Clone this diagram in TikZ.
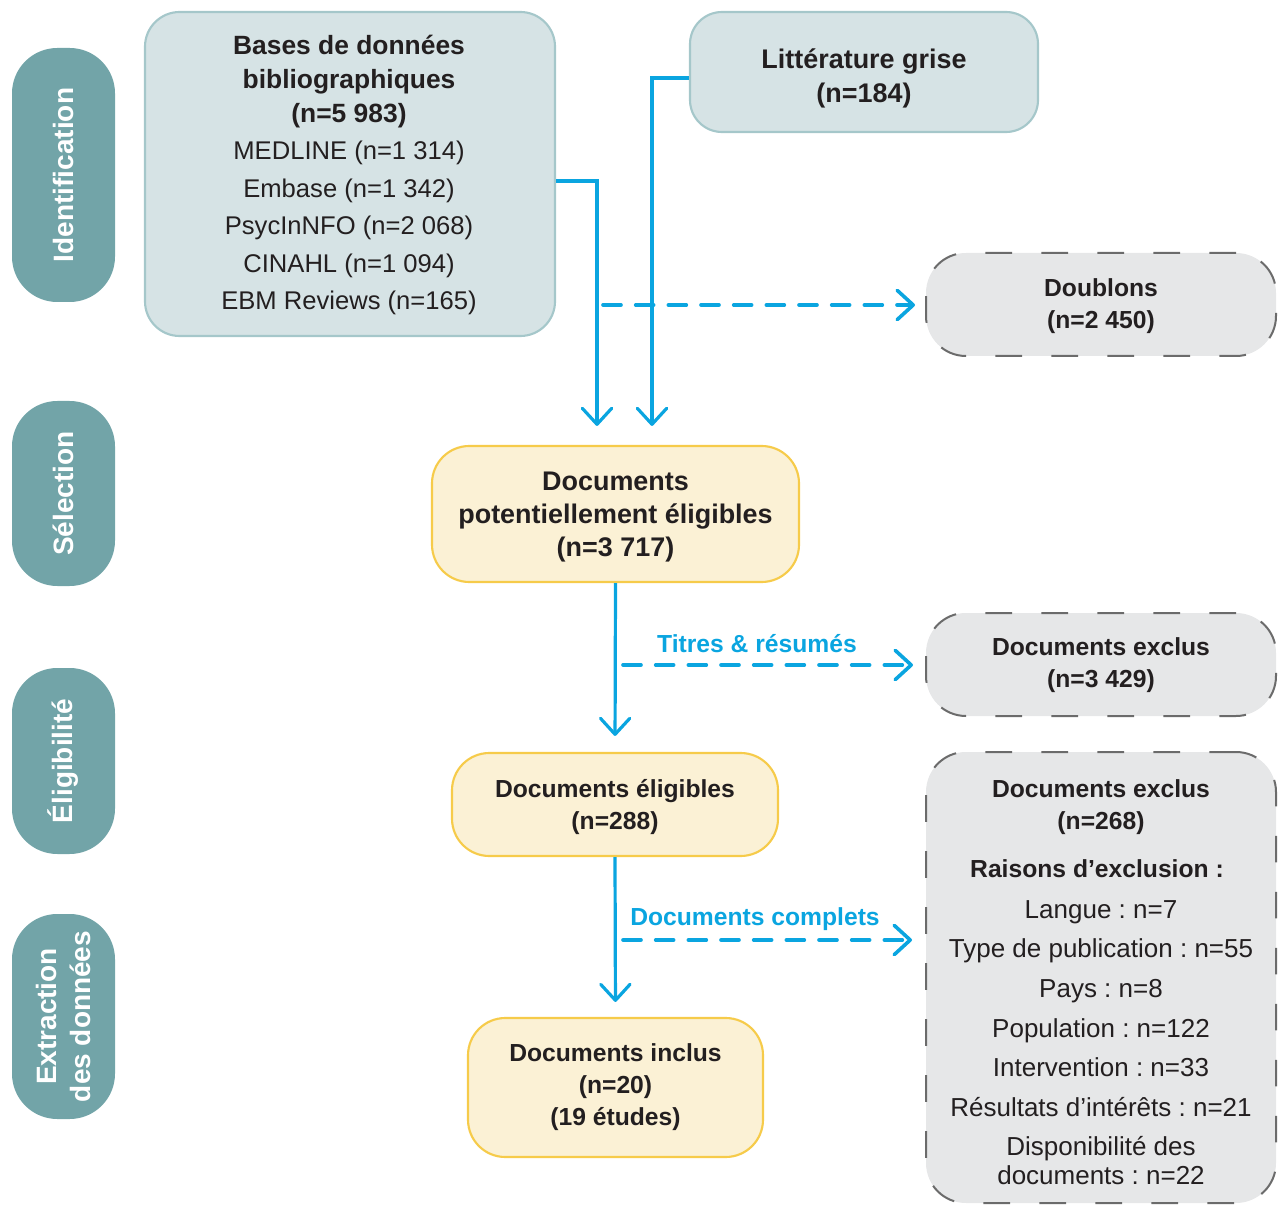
\documentclass[tikz,border=0pt]{standalone}
\usepackage{fontspec}
\setmainfont{Liberation Sans}
\usetikzlibrary{arrows.meta}
\frenchspacing
\definecolor{sidec}{HTML}{72A4A8}
\definecolor{bgfill}{HTML}{D6E3E5}
\definecolor{bgline}{HTML}{A5C7CA}
\definecolor{yfill}{HTML}{FBF1D5}
\definecolor{yline}{HTML}{F6CB4A}
\definecolor{gfill}{HTML}{E6E7E8}
\definecolor{gline}{HTML}{6B6B6B}
\definecolor{arrc}{HTML}{0AA5E0}
\definecolor{txt}{HTML}{231F20}
\def\pxu{0.75pt}
\tikzset{
  sidebox/.style={rounded corners=34pt, fill=sidec, rotate=90, text=white, inner sep=0pt,
    font=\fontsize{21}{25}\selectfont\bfseries, align=center},
  bluebox/.style={rounded corners=26pt, fill=bgfill, draw=bgline, line width=1.6pt, inner sep=0pt},
  yellowbox/.style={rounded corners=28pt, fill=yfill, draw=yline, line width=1.6pt, inner sep=0pt},
  graybox/.style={rounded corners=30pt, fill=gfill, draw=gline, line width=1.5pt, dash pattern=on 20pt off 22pt, inner sep=0pt},
  boldtxt/.style={text=txt, align=center, inner sep=0pt, font=\fontsize{18.5}{24}\selectfont\bfseries},
  regtxt/.style={text=txt, align=center, inner sep=0pt, font=\fontsize{18.5}{28}\selectfont},
  arr/.style={draw=arrc, line width=2.4pt, -{Straight Barb[length=12pt,width=22pt,round]}},
  darr/.style={arr, line width=2.7pt, line cap=round, dash pattern=on 13.5pt off 11pt},
  lbl/.style={text=arrc, font=\fontsize{18.5}{22}\selectfont\bfseries, inner sep=0pt},
}
\begin{document}
\begin{tikzpicture}[x=0.75pt,y=-0.75pt]
\useasboundingbox (0,0) rectangle (1282,1205);

% side labels
\node[sidebox, minimum width=254*\pxu, minimum height=103*\pxu] (s1) at (63.5,175) {Identification};
\node[sidebox, minimum width=185*\pxu, minimum height=103*\pxu] (s2) at (63.5,493.5) {Sélection};
\node[sidebox, minimum width=186*\pxu, minimum height=103*\pxu] (s3) at (63.5,761) {Éligibilité};
\node[sidebox, minimum width=205*\pxu, minimum height=103*\pxu] (s4) at (63.5,1016.5) {Extraction\\des données};

% identification boxes
\node[bluebox, minimum width=410*\pxu, minimum height=324*\pxu] (bases) at (350,174) {};
\node[boldtxt, font=\fontsize{19.8}{25.5}\selectfont\bfseries] (basest) at (349,82) {Bases de données\\bibliographiques\\(n=5 983)};
\node[regtxt, font=\fontsize{19.2}{28.1}\selectfont] (basesl) at (349,228) {MEDLINE (n=1 314)\\Embase (n=1 342)\\PsycInNFO (n=2 068)\\CINAHL (n=1 094)\\EBM Reviews (n=165)};
\node[bluebox, rounded corners=24pt, minimum width=348*\pxu, minimum height=120*\pxu] (litt) at (864,72) {};
\node[boldtxt, font=\fontsize{20.2}{25.5}\selectfont\bfseries] (littt) at (864,78) {Littérature grise\\(n=184)};

\node[graybox, minimum width=350*\pxu, minimum height=103*\pxu] (doub) at (1101,304.5) {};
\node[boldtxt] (doubt) at (1101,306.5) {Doublons\\(n=2 450)};

% main flow
\node[yellowbox, minimum width=367*\pxu, minimum height=136*\pxu] (pot) at (615.5,514) {};
\node[boldtxt, font=\fontsize{20.2}{24.75}\selectfont\bfseries] (pott) at (615.5,517) {Documents\\potentiellement éligibles\\(n=3 717)};
\node[graybox, minimum width=350*\pxu, minimum height=103*\pxu] (ex1) at (1101,664.5) {};
\node[boldtxt] (ex1t) at (1101,665.5) {Documents exclus\\(n=3 429)};
\node[yellowbox, minimum width=326*\pxu, minimum height=103*\pxu] (elig) at (615,804.5) {};
\node[boldtxt] (eligt) at (615,807.5) {Documents éligibles\\(n=288)};
\node[yellowbox, minimum width=295*\pxu, minimum height=139*\pxu] (incl) at (615.5,1087.5) {};
\node[boldtxt] (inclt) at (615.5,1087) {Documents inclus\\(n=20)\\(19 études)};

\node[graybox, minimum width=350*\pxu, minimum height=451*\pxu] (ex2) at (1101,977.5) {};
\node[boldtxt] (ex2a) at (1101,807) {Documents exclus\\(n=268)};
\node[boldtxt] (ex2b) at (1097,869) {Raisons d’exclusion :};
\node[regtxt, font=\fontsize{19.5}{29.7}\selectfont] (ex2c) at (1101,1008.5) {Langue : n=7\\Type de publication : n=55\\Pays : n=8\\Population : n=122\\Intervention : n=33\\Résultats d’intérêts : n=21};
\node[regtxt, font=\fontsize{19.5}{21.75}\selectfont] (ex2d) at (1101,1161) {Disponibilité des\\documents : n=22};

% connectors
\draw[arr, shorten >=19*\pxu] ([yshift=-7*\pxu]bases.east) -| ([xshift=-18.5*\pxu]pot.north);
\draw[arr, shorten >=19*\pxu] ([yshift=-6*\pxu]litt.west) -| ([xshift=36.5*\pxu]pot.north);
\coordinate (d1) at (603,305);
\draw[darr, shorten >=10*\pxu] (d1) -- (d1 -| doub.west);

\draw[arr, shorten >=16*\pxu] (pot.south) -- (elig.north);
\coordinate (d2) at (623,665);
\draw[darr, shorten >=12*\pxu] (d2) -- (d2 -| ex1.west);
\node[lbl] (l1) at (757,644) {Titres \& résumés};

\draw[arr, shorten >=15*\pxu] (elig.south) -- (incl.north);
\coordinate (d3) at (623,940);
\draw[darr, shorten >=13*\pxu] (d3) -- (d3 -| ex2.west);
\node[lbl] (l2) at (755,919) {Documents complets};
\end{tikzpicture}
\end{document}
